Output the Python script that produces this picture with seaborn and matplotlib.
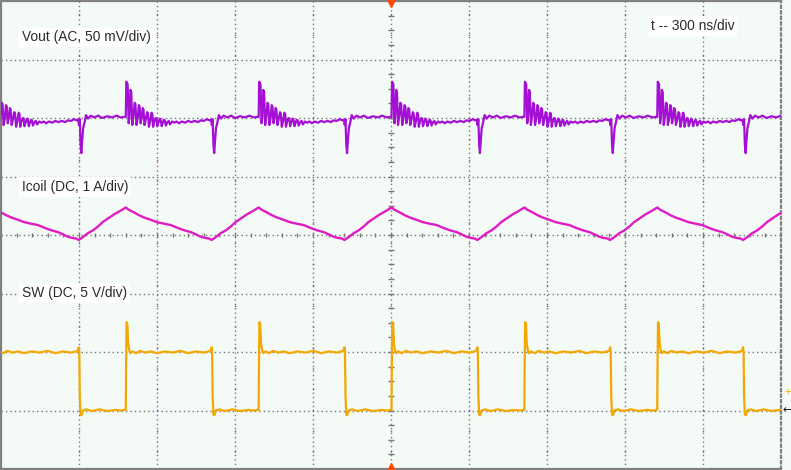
import numpy as np
import pandas as pd
import matplotlib
matplotlib.use("Agg")
import matplotlib.pyplot as plt
import seaborn as sns

# ---- data (time in ns, 300 ns/div; amplitude in screen divisions) ----
sw_rise_ns = [-31, 480, 991, 1502, 2013, 2524, 3034]

# one switching period of each trace, relative to the SW rising edge
vout_t = [0, 2, 7, 11, 14, 18, 21, 25, 30, 34, 37, 41, 46, 50, 53, 57, 61, 65, 68, 72,
          77, 82, 85, 89, 94, 99, 102, 105, 110, 115, 118, 121, 126, 131, 134, 138, 143,
          147, 150, 154, 160, 165, 170, 178, 186, 195, 205, 215, 228, 240, 252, 265, 278,
          288, 300, 312, 322, 328, 331, 334, 337, 340, 343, 347, 352, 358, 366, 376, 390,
          405, 420, 440, 458, 475, 492, 507]
vout_v = [2.02, 2.62, 2.58, 1.91, 2.02, 2.48, 2.44, 1.88, 2.05, 2.26, 2.24, 1.88, 2.00,
          2.22, 2.20, 1.91, 2.00, 2.17, 2.15, 1.88, 1.98, 2.10, 2.08, 1.85, 1.95, 2.09,
          2.07, 1.85, 1.95, 2.00, 1.99, 1.86, 1.93, 1.99, 1.97, 1.86, 1.93, 1.97, 1.96,
          1.87, 1.93, 1.95, 1.89, 1.94, 1.92, 1.94, 1.91, 1.94, 1.92, 1.95, 1.93, 1.95,
          1.93, 1.96, 1.95, 1.98, 1.96, 1.97, 1.88, 1.98, 1.55, 1.40, 1.60, 1.83, 1.92,
          2.05, 1.99, 2.04, 2.01, 2.04, 2.00, 2.03, 2.01, 2.04, 2.01, 2.02]

icoil_t = [0, 12, 30, 50, 70, 96, 120, 150, 173, 200, 225, 250, 270, 288, 305, 320, 330,
           345, 365, 385, 405, 422, 445, 465, 485, 500, 507]
icoil_v = [0.47, 0.43, 0.39, 0.34, 0.30, 0.26, 0.22, 0.19, 0.17, 0.12, 0.08, 0.05, 0.01,
           -0.03, -0.05, -0.06, -0.085, -0.04, 0.03, 0.08, 0.15, 0.22, 0.29, 0.35, 0.40,
           0.44, 0.46]

sw_t = [0, 1, 3, 6, 9, 13, 17, 25, 40, 55, 75, 95, 120, 150, 180, 210, 240, 270, 300,
        320, 327, 330, 332, 334, 337, 341, 346, 360, 380, 410, 440, 470, 495, 507]
sw_v = [-2.99, -2.30, -1.49, -1.52, -1.85, -1.96, -2.02, -1.99, -2.02, -1.98, -2.01,
        -1.99, -2.02, -1.99, -2.01, -1.98, -2.02, -1.99, -2.01, -1.99, -1.97, -1.92,
        -2.00, -2.75, -3.07, -3.08, -3.00, -2.98, -3.01, -2.98, -3.01, -2.99, -3.00, -2.99]

channels = ["Vout", "Icoil", "SW"]
labels = ["Vout (AC, 50 mV/div)", "Icoil (DC, 1 A/div)", "SW (DC, 5 V/div)"]
timebase_label = "t -- 300 ns/div"

# ---- assemble traces ----
rows = []
for name, tt, vv in [("Vout", vout_t, vout_v), ("Icoil", icoil_t, icoil_v), ("SW", sw_t, sw_v)]:
    for r in sw_rise_ns:
        for t, v in zip(tt, vv):
            rows.append((name, t + r, v))
df = pd.DataFrame(rows, columns=["ch", "t", "v"])

sns.set_style("white")
plt.rcParams["font.family"] = ["Liberation Sans", "DejaVu Sans"]

bg = "#F4FAF6"
grid_c = "#777777"
fig = plt.figure(figsize=(7.91, 4.70), dpi=100, facecolor=bg)
ax = fig.add_axes([1 / 791, 1 / 470, 780 / 791, 468 / 470])
ax.set_facecolor(bg)
ax.set_xlim(0, 3000)
ax.set_ylim(-4, 4)

# graticule
for gx in np.arange(300, 3000, 300):
    ax.axvline(gx, color=grid_c, lw=1.0, ls=(0, (1, 2.2)), zorder=1)
    ax.axvline(gx, color="#A010D0", lw=1.0, ls=(3, (1, 14)), zorder=1, alpha=0.8)
for gy in np.arange(-3, 4, 1):
    ax.axhline(gy, color=grid_c, lw=1.0, ls=(0, (1, 2.2)), zorder=1)
# center-line minor ticks
mx = np.arange(0, 3001, 60)
ax.plot(mx, np.zeros_like(mx, dtype=float), ls="none", marker="|", ms=3.5, mew=1,
        color=grid_c, zorder=1)
my = np.arange(-4, 4.01, 0.25)
ax.plot(np.full_like(my, 1500.0), my, ls="none", marker="_", ms=4.5, mew=1,
        color=grid_c, zorder=1)

palette = {"Vout": "#A410D4", "Icoil": "#E01CC4", "SW": "#F3A800"}
for ch, lw in [("Icoil", 1.7), ("SW", 1.6), ("Vout", 1.6)]:
    sns.lineplot(data=df[df.ch == ch], x="t", y="v", color=palette[ch], lw=lw,
                 estimator=None, sort=False, legend=False, ax=ax, zorder=3)

ax.set_xlabel("")
ax.set_ylabel("")
ax.set_xticks([])
ax.set_yticks([])
for s in ax.spines.values():
    s.set_color("#808080")
    s.set_linewidth(1.6)
ax.spines["right"].set_linestyle((0, (1, 1.5)))

# labels
tkw = dict(fontsize=9.9, color="#2a2a2a", va="center", ha="left", zorder=5,
           bbox=dict(facecolor="white", edgecolor="none", pad=2.0))
ax.text(81, 3.38, labels[0], **tkw)
ax.text(81, 0.82, labels[1], **tkw)
ax.text(81, -0.99, labels[2], **tkw)
ax.text(2500, 3.57, timebase_label, **tkw)

# trigger markers and channel level markers
ax.plot([1500], [4], marker="v", ms=9, color="#FF4A00", clip_on=False, zorder=6)
ax.plot([1500], [-4], marker="^", ms=9, color="#FF4A00", clip_on=False, zorder=6)
ax.text(1.004, -2.68, "+", transform=ax.get_yaxis_transform(), color="#F3A800",
        fontsize=8, va="center", ha="left", clip_on=False)
ax.text(1.002, -2.99, "←", transform=ax.get_yaxis_transform(), color="#111111",
        fontsize=8, va="center", ha="left", clip_on=False, family="DejaVu Sans")

fig.savefig("out.png", dpi=100, facecolor=bg)
